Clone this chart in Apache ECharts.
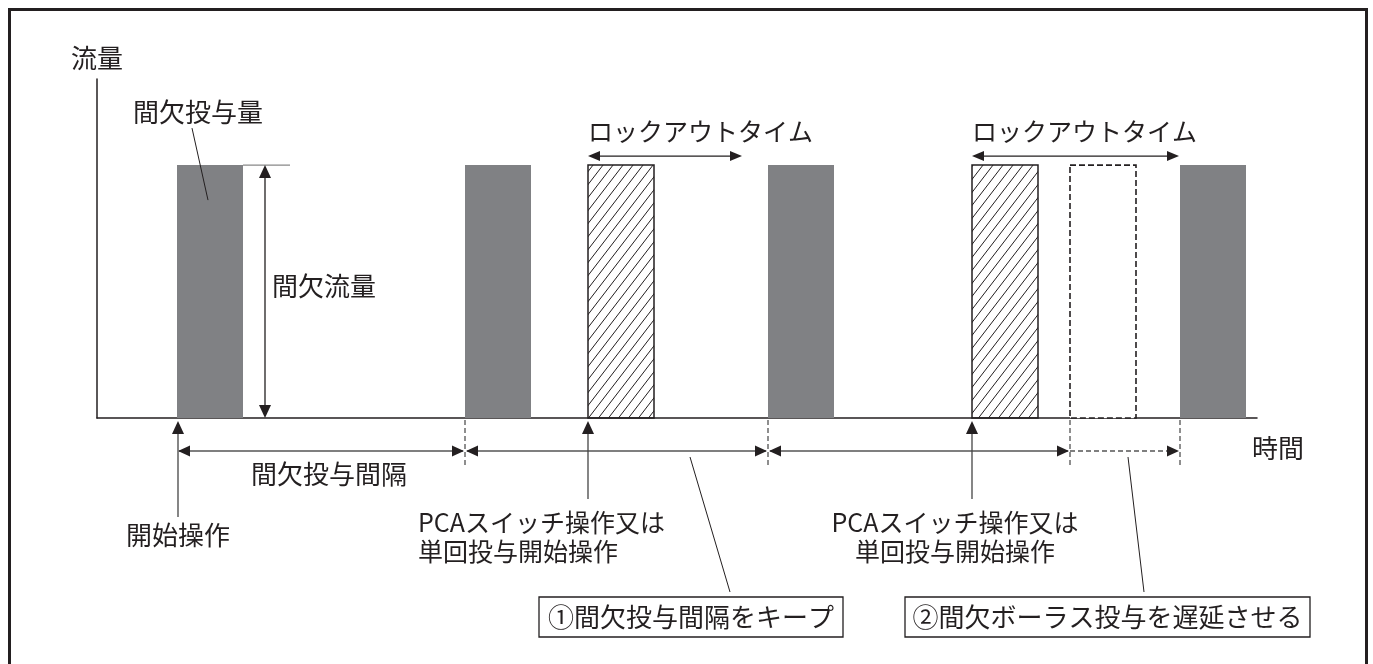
<!DOCTYPE html>
<html><head><meta charset="utf-8">
<script src="https://cdn.jsdelivr.net/npm/echarts@6/dist/echarts.min.js"></script>
<style>html,body{margin:0;padding:0;background:#fff}#c{width:1373px;height:664px}</style>
</head><body><div id="c"></div>
<script>
// ---------- data (time in arbitrary units, flow 0-100) ----------
const barStart = [8.0, 36.8, 49.1, 67.1, 87.5, 97.3, 108.3];
const barKind = ['dose', 'dose', 'pca', 'dose', 'pca', 'delayed', 'dose'];
const barDuration = 6.6;
const flowRate = 74.6;
const lockoutStart = [49.1, 87.5];
const lockoutEnd = [64.5, 108.2];
const intervalBounds = [8.0, 36.8, 67.1, 97.3];
const delayedEnd = 108.3;
const pcaTimes = [49.1, 87.5];
const startTime = 8.0;
const noteAt = [59.3, 103.1];
const axisNames = ['時間', '流量'];
const labelTexts = {
  dose: '間欠投与量',
  rate: '間欠流量',
  lockout: 'ロックアウトタイム',
  interval: '間欠投与間隔',
  start: '開始操作',
  pca: 'PCAスイッチ操作又は\n単回投与開始操作',
  note1: '①間欠投与間隔をキープ',
  note2: '②間欠ボーラス投与を遅延させる'
};

// ---------- styling ----------
const FONT = '"Noto Sans CJK JP", "Noto Sans", sans-serif';
const INK = '#231f20';
const GRAY = '#808184';

const hatch = document.createElement('canvas');
hatch.width = 10; hatch.height = 13;
(function () {
  const g = hatch.getContext('2d');
  g.strokeStyle = INK; g.lineWidth = 1;
  for (const dx of [-10, 0, 10]) {
    g.beginPath(); g.moveTo(dx, 13); g.lineTo(dx + 10, 0); g.stroke();
  }
})();

function renderBar(params, api) {
  const s = api.value(0), e = api.value(1), v = api.value(2);
  const kind = barKind[params.dataIndex];
  const p0 = api.coord([s, v]), p1 = api.coord([e, 0]);
  const shape = { x: p0[0], y: p0[1], width: p1[0] - p0[0], height: p1[1] - p0[1] };
  let style;
  if (kind === 'dose') style = { fill: GRAY };
  else if (kind === 'pca') style = { fill: { image: hatch, repeat: 'repeat' }, stroke: INK, lineWidth: 1.5 };
  else style = { fill: '#fff', stroke: INK, lineWidth: 1.6, lineDash: [6, 3] };
  return { type: 'rect', shape, style };
}

function renderAnnotations(params, api) {
  const X = t => api.coord([t, 0])[0];
  const base = api.coord([0, 0])[1];
  const top = api.coord([0, flowRate])[1];
  const ch = [];
  const line = (x1, y1, x2, y2, o = {}) => ch.push({ type: 'line', shape: { x1, y1, x2, y2 },
    style: { stroke: o.color || INK, lineWidth: o.w || 1.3, lineDash: o.dash || null } });
  const head = (x, y, dir, len = 12, hw = 5.5) => {
    let pts;
    if (dir === 'r') pts = [[x, y], [x - len, y - hw], [x - len, y + hw]];
    else if (dir === 'l') pts = [[x, y], [x + len, y - hw], [x + len, y + hw]];
    else if (dir === 'u') pts = [[x, y], [x - hw, y + len], [x + hw, y + len]];
    else pts = [[x, y], [x - hw, y - len], [x + hw, y - len]];
    ch.push({ type: 'polygon', shape: { points: pts }, style: { fill: INK } });
  };
  const text = (str, x, y, align = 'left', va = 'middle', o = {}) => ch.push({ type: 'text', x, y,
    style: { text: str, fill: INK, font: `${o.size || 26}px ${FONT}`, align, verticalAlign: va, lineHeight: o.lh || undefined } });

  // time axis name, below the axis end
  const axEnd = api.coord([116, 0])[0];
  text(axisNames[0], axEnd - 5, base + 30, 'left');

  // intermittent flow dimension
  const b1End = X(startTime + barDuration);
  line(b1End, top, b1End + 47, top, { color: '#888', w: 1.2 });
  const ax = b1End + 22;
  line(ax, top + 6, ax, base - 6, { w: 1.3 });
  head(ax, top, 'u', 13, 6); head(ax, base, 'd', 13, 6);
  text(labelTexts.rate, ax + 7, (top + base) / 2 - 5, 'left');

  // dose label with leader
  const b1 = X(startTime);
  text(labelTexts.dose, b1 + 21, top - 53, 'center');
  line(b1 + 15, top - 37, b1 + 31, top + 35, { w: 1 });

  // lockout arrows
  for (let i = 0; i < lockoutStart.length; i++) {
    const xs = X(lockoutStart[i]), xe = X(lockoutEnd[i]);
    const y = top - 9;
    line(xs + 6, y, xe - 6, y, { w: 1.3 });
    head(xs, y, 'l', 12, 5); head(xe, y, 'r', 12, 5);
    text(labelTexts.lockout, xs, top - 34, 'left', 'middle', { size: 25 });
  }

  // interval row
  const ry = base + 33;
  for (let i = 0; i < intervalBounds.length - 1; i++) {
    const xs = X(intervalBounds[i]), xe = X(intervalBounds[i + 1]);
    line(xs + 2, ry, xe - 2, ry, { color: '#555', w: 1.4 });
    head(xs + 1, ry, 'l', 12, 5.5); head(xe - 1, ry, 'r', 12, 5.5);
  }
  const dx0 = X(intervalBounds[intervalBounds.length - 1]), dx1 = X(delayedEnd);
  line(dx0, ry, dx1 - 6, ry, { color: '#555', w: 1.3, dash: [5, 3] });
  head(dx1 - 1, ry, 'r', 12, 5.5);
  for (const t of intervalBounds.slice(1).concat([delayedEnd])) {
    const x = X(t);
    line(x, base + 2, x, base + 49, { color: '#444', w: 1.2, dash: [5, 3] });
  }
  text(labelTexts.interval, (X(intervalBounds[0]) + X(intervalBounds[1])) / 2 + 8, base + 56, 'center');

  // start arrow
  const sx = X(startTime) + 1;
  line(sx, base + 14, sx, base + 99, { color: '#444', w: 1.3 });
  head(sx, base + 3, 'u', 13, 6);
  text(labelTexts.start, sx, base + 117, 'center');

  // PCA arrows
  pcaTimes.forEach((t, i) => {
    const x = X(t);
    line(x, base + 14, x, base + 81, { color: '#444', w: 1.3 });
    head(x, base + 3, 'u', 13, 6);
    if (i === 0) text(labelTexts.pca, x - 170, base + 118.5, 'left', 'middle', { size: 25, lh: 29 });
    else text(labelTexts.pca, x - 17, base + 118.5, 'center', 'middle', { size: 25, lh: 29 });
  });

  // notes
  const notes = [
    { at: noteAt[0], txt: labelTexts.note1, w: 304, off: 40, boxDx: 1 },
    { at: noteAt[1], txt: labelTexts.note2, w: 405, off: 16, boxDx: -20.5 }
  ];
  notes.forEach(n => {
    const x = X(n.at);
    line(x, ry + 6, x + n.off, base + 174, { w: 1 });
    const cx = x + n.boxDx;
    ch.push({ type: 'rect', shape: { x: cx - n.w / 2, y: base + 179, width: n.w, height: 40 },
      style: { fill: '#fff', stroke: INK, lineWidth: 1.3 } });
    text(n.txt, cx, base + 199, 'center');
  });

  return { type: 'group', children: ch };
}

const chart = echarts.init(document.getElementById('c'));
chart.setOption({
  animation: false,
  backgroundColor: '#fff',
  graphic: [{ type: 'rect', shape: { x: 9.5, y: 9.5, width: 1357, height: 700 },
    style: { fill: 'none', stroke: INK, lineWidth: 3 }, silent: true }],
  grid: { left: 97, top: 79, width: 1160, height: 339 },
  xAxis: {
    type: 'value', min: 0, max: 116,
    axisLine: { show: true, lineStyle: { color: INK, width: 1.5 } },
    axisTick: { show: false }, axisLabel: { show: false }, splitLine: { show: false }
  },
  yAxis: {
    type: 'value', min: 0, max: 100,
    axisLine: { show: true, lineStyle: { color: INK, width: 1.5 } },
    axisTick: { show: false }, axisLabel: { show: false }, splitLine: { show: false },
    name: axisNames[1], nameLocation: 'end', nameGap: 8,
    nameTextStyle: { color: INK, fontSize: 26, fontFamily: FONT }
  },
  series: [
    { type: 'custom', clip: false, renderItem: renderBar, encode: { x: [0, 1], y: 2 },
      data: barStart.map(s => [s, s + barDuration, flowRate]) },
    { type: 'custom', clip: false, renderItem: renderAnnotations, encode: { x: 0, y: 1 },
      data: [[0, 0]], z: 3 }
  ]
});
</script>
</body></html>
